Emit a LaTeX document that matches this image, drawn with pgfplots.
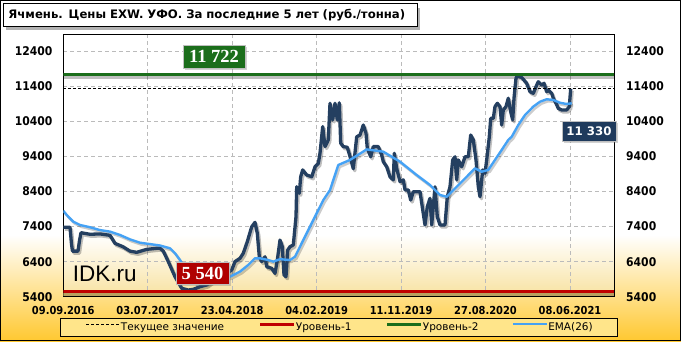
\documentclass[border=0pt]{standalone}
\usepackage{fontspec}
\usepackage{pgfplots}
\usepackage{pgfplotstable}
\pgfplotsset{compat=1.18}
\usetikzlibrary{shadows}
\setmainfont{DejaVu Sans}
\newfontfamily\tahb{DejaVu Sans}[FakeStretch=0.9]
\newfontfamily\serb{Liberation Serif}
\newfontfamily\ari{Liberation Sans}
\definecolor{mainc}{HTML}{243F60}
\definecolor{emac}{HTML}{45A2F5}
\definecolor{redc}{HTML}{C00000}
\definecolor{greenc}{HTML}{1B6E1B}
\definecolor{gold}{HTML}{FFC830}
\definecolor{plotyel}{HTML}{F8E2A0}
\definecolor{legfill}{HTML}{FFE58A}
\definecolor{navybox}{HTML}{1F3A5C}
\definecolor{redbox}{HTML}{B00000}
\definecolor{gridc}{HTML}{BBBBBB}
\definecolor{tanc}{HTML}{B8A060}

\pgfplotstableread{
x y
63.3 7380
70 7380
71.5 6900
72.5 6700
78 6700
79.5 7000
81 7225
90 7180
100 7190
110 7150
115 6920
123 6825
130 6700
136.7 6665
146.7 6750
156.7 6780
160 6780
163.3 6700
168.3 6400
175 5970
181.7 5640
188.3 5590
193.3 5610
200 5685
206.7 5735
213.3 5875
220 5970
226.7 6065
231.7 6160
235 6400
240 6495
243.3 6640
247.3 6970
251.7 7395
255 7520
257.3 7210
259.3 6540
261.7 6400
265 6540
266.7 6255
271.7 6210
275 6065
277.3 6445
280 7015
282.3 6825
284 6020
286 5970
287.7 6730
290 6825
293.3 6875
296 7680
296.7 8535
299.3 8350
300.7 8820
302.7 9015
306.7 8870
311.7 8820
315 9105
318.3 9200
320 9490
322.7 10250
325 9680
328.3 9870
330 10915
332.7 10440
335 10915
337.3 10440
339.3 10930
340.7 9775
343.3 9680
347.3 9660
350 9400
353.3 9050
356.7 9960
360 10010
363.3 10295
366 10060
367.3 9630
370.7 9390
373.3 9680
378.3 9680
381.7 9440
383.3 9250
386.7 9105
390 8820
393.3 8730
394.3 9490
396.7 9060
400 8680
403.3 8730
405 8445
408.3 8445
410.7 8155
413.3 8395
420 8395
425 7445
427.3 7965
430 8205
431.7 7445
435 8535
437.3 7680
440 7445
445 7445
447.3 8250
450 8535
452.7 9300
455 9390
456.7 8730
458.3 9300
461.7 9105
465 9390
468.3 9390
470.7 10010
473.3 9870
476 9300
478.3 8535
480 8250
482.7 9015
485 8920
486.7 9300
489.3 9960
490.7 10485
493.3 10485
495 10820
497.3 10915
500 10820
501.7 10295
503.3 10725
506 10820
508.3 11060
510.7 10675
512.7 10440
514 11060
516 11630
517.3 11700
521.7 11650
523.3 11600
526.7 11485
530 11245
533.3 11200
536.7 11435
538.3 11530
541.7 11435
544 11485
546.7 11245
548.3 11290
551.7 11200
553.3 11060
556 10915
558.3 10770
561.7 10725
566.7 10725
569.3 10820
570.7 11330
}\maindata

\pgfplotstableread{
x y
63.3 7850
66.7 7730
73.3 7540
80 7445
90 7380
100 7300
110 7255
120 7160
130 7035
140 6940
150 6900
160 6860
170 6780
175 6640
180 6445
185 6200
190 5950
196.7 5760
206.7 5780
220 5895
230 5970
240 6115
248.3 6305
255 6495
260 6495
268.3 6445
273.3 6400
280 6470
290 6445
295 6540
303.3 7015
313.3 7585
323.3 8155
330 8440
338.3 9155
350 9300
360 9480
366.7 9600
383.3 9535
400 9250
416.7 8870
430 8585
440 8300
446.7 8250
456.7 8535
466.7 8820
475 9060
481.7 8965
488.3 9015
495 9300
501.7 9585
508.3 9870
511.7 9960
518.3 10295
525 10580
533.3 10820
540 10960
546.7 11030
553.3 11010
560 10930
566.7 10895
571.7 10915
}\emadata

\begin{document}
\begin{tikzpicture}[x=1pt,y=1pt]
\begin{scope}[shift={(-63.3,296.7)}]
\fill[white] (0,0) rectangle (681,-341);
\shade[top color=white, bottom color=gold] (0,-235) rectangle (681,-341);
% title
\fill[black, opacity=0.3] (6,-8) rectangle (420,-30);
\node[anchor=north west, draw=black, fill=white, line width=0.8pt, minimum width=414pt, minimum height=23pt, inner xsep=5pt, text width=404pt, align=left,
  font=\bfseries\fontsize{11.7}{13}\selectfont] at (3,-3) {Ячмень. Цены EXW. УФО. За последние 5 лет (руб./тонна)};
% plot area background
\fill[white] (63.3,-34.7) rectangle (614,-296.7);
\shade[top color=white, bottom color=plotyel] (63.3,-235) rectangle (614,-296.7);
\end{scope}

\begin{axis}[
  scale only axis,
  width=550.7pt, height=262pt,
  xmin=63.3, xmax=614, ymin=5400, ymax=12871,
  xtick={63.3,147.75,232.2,316.65,401.1,485.55,570},
  xticklabels={09.09.2016,03.07.2017,23.04.2018,04.02.2019,11.11.2019,27.08.2020,08.06.2021},
  ytick={5400,6400,7400,8400,9400,10400,11400,12400},
  scaled y ticks=false,
  major tick length=0pt, tick style={draw=none},
  xticklabel style={font=\tahb\bfseries\fontsize{11}{11}\selectfont, anchor=center, inner sep=0pt, yshift=-13.3pt},
  yticklabel style={font=\tahb\bfseries\fontsize{12}{12}\selectfont, anchor=east, inner sep=0pt, xshift=-10.6pt,
    /pgf/number format/1000 sep={}, /pgf/number format/assume math mode=true},
  grid=major,
  major grid style={gridc, dash pattern=on 4pt off 3pt, line width=0.7pt},
  axis line style={black, line width=0.9pt},
  legend columns=4,
  legend image code/.code={\draw[#1] (0pt,3.5pt) -- (34pt,3.5pt);},
  legend style={at={(0.5,-0.0813)}, anchor=north, fill=legfill, draw=black, line width=0.8pt,
    inner xsep=26pt, inner ysep=4.3pt, font=\fontsize{10.5}{12}\selectfont,
    nodes={inner sep=0pt},
    /tikz/every even column/.append style={column sep=4pt}},
]
% shadows
\addplot[forget plot, black, opacity=0.25, line width=3.3pt, line join=round, xshift=1.5pt, yshift=-2pt] table {\maindata};
\addplot[forget plot, black, opacity=0.2, line width=2.4pt, line join=round, xshift=1.5pt, yshift=-2pt] table {\emadata};
\addplot[forget plot, tanc, line width=3pt, yshift=-3pt] coordinates {(63.3,5540) (614,5540)};
\addplot[forget plot, black, opacity=0.25, line width=3pt, yshift=-3pt] coordinates {(63.3,11722) (614,11722)};
% main series
\addplot[forget plot, mainc, line width=3.3pt, line join=round] table {\maindata};
\addplot[black, line width=0.9pt, dash pattern=on 3pt off 2pt] coordinates {(63.3,11330) (614,11330)};
\addlegendentry{\makebox[134pt][l]{Текущее значение}}
\addplot[redc, line width=3pt] coordinates {(63.3,5540) (614,5540)};
\addlegendentry{\makebox[86pt][l]{Уровень-1}}
\addplot[greenc, line width=3pt] coordinates {(63.3,11722) (614,11722)};
\addlegendentry{\makebox[85pt][l]{Уровень-2}}
\addplot[emac, line width=2.4pt, line join=round] table {\emadata};
\addlegendentry{\makebox[43pt][l]{EMA(26)}}
\end{axis}

\begin{axis}[
  scale only axis,
  width=550.7pt, height=262pt,
  xmin=63.3, xmax=614, ymin=5400, ymax=12871,
  hide x axis, axis y line*=right, y axis line style={draw=none},
  ytick={5400,6400,7400,8400,9400,10400,11400,12400},
  scaled y ticks=false,
  major tick length=0pt, tick style={draw=none},
  yticklabel style={font=\tahb\bfseries\fontsize{12}{12}\selectfont, anchor=west, inner sep=0pt, xshift=12pt,
    /pgf/number format/1000 sep={}, /pgf/number format/assume math mode=true},
]
\addplot[draw=none] coordinates {(100,6000)};
\end{axis}

\begin{scope}[shift={(-63.3,296.7)}]
\node[anchor=base west, inner sep=0pt, font=\ari\fontsize{22.5}{22.5}\selectfont] at (72.7,-281.7) {IDK.ru};
\node[fill=greenc, draw=white!75!black, line width=0.6pt, text=white, font=\serb\bfseries\fontsize{18.5}{18.5}\selectfont,
  minimum width=62pt, minimum height=23pt, inner sep=0pt,
  drop shadow={shadow xshift=2pt, shadow yshift=-2pt, opacity=0.35}] at (214,-56.5) {11 722};
\node[fill=redbox, draw=white!75!black, line width=0.6pt, text=white, font=\serb\bfseries\fontsize{18.5}{18.5}\selectfont,
  minimum width=53pt, minimum height=22pt, inner sep=0pt,
  drop shadow={shadow xshift=2pt, shadow yshift=-2pt, opacity=0.35}] at (202.5,-273) {5 540};
\node[fill=navybox, draw=white!75!black, line width=0.6pt, text=white, font=\bfseries\fontsize{11.8}{11.8}\selectfont,
  minimum width=54pt, minimum height=20pt, inner sep=0pt,
  drop shadow={shadow xshift=2pt, shadow yshift=-2pt, opacity=0.35}] at (589,-131) {11 330};
\draw[black, line width=1pt] (0.5,-0.5) rectangle (680.5,-340.5);
\pgfresetboundingbox
\useasboundingbox (0,0) rectangle (681,-341);
\end{scope}
\end{tikzpicture}
\end{document}
